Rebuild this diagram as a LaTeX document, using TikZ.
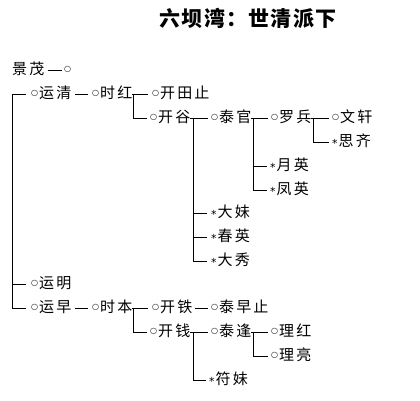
\documentclass[tikz,border=0pt]{standalone}
\usepackage{fontspec}
\newfontfamily\cjk{Noto Sans CJK SC}[LetterSpace=14]
\newfontfamily\cjktitle{Noto Sans CJK SC}[LetterSpace=6]
\newfontfamily\symfont{DejaVu Sans}
\newcommand\ringmark{\raisebox{3pt}{\symfont\fontsize{8}{8}\selectfont ○}\kern1pt}
\newcommand\starmark{\raisebox{-1.2pt}{\symfont\fontsize{11}{11}\selectfont *}\kern1pt}
\tikzset{
  person/.style={anchor=west, inner sep=0pt, font=\cjk\fontsize{15}{15}\selectfont, text height=12pt, text depth=3pt},
  conn/.style={line width=0.8pt, black},
}
\begin{document}
\begin{tikzpicture}[x=1pt,y=-1pt]
\useasboundingbox (0,0) rectangle (420,401);
\node[font=\cjktitle\bfseries\fontsize{21}{21}\selectfont, inner sep=0pt] (title) at (248,18) {六坝湾：世清派下};
% vertical line positions
\coordinate (V0) at (12,0);
\coordinate (V1) at (133,0);
\coordinate (V2) at (193,0);
\coordinate (V3) at (253,0);
\coordinate (V4) at (313,0);
% nodes
\node[person] (jm) at (12,70) {景茂};
\node[person] (r0) at (64,70) {\ringmark};
\node[person] (yq) at (31,94) {\ringmark 运清};
\node[person] (sh) at (92,94) {\ringmark 时红};
\node[person] (kt) at (152,94) {\ringmark 开田止};
\node[person] (kg) at (150,118) {\ringmark 开谷};
\node[person] (tg) at (211,118) {\ringmark 泰官};
\node[person] (lb) at (271,118) {\ringmark 罗兵};
\node[person] (wx) at (332,118) {\ringmark 文轩};
\node[person] (sq) at (332,142) {\starmark 思齐};
\node[person] (yy) at (270,166) {\starmark 月英};
\node[person] (fy) at (270,190) {\starmark 凤英};
\node[person] (dm) at (211,213) {\starmark 大妹};
\node[person] (cy) at (211,237) {\starmark 春英};
\node[person] (dx) at (211,261) {\starmark 大秀};
\node[person] (ym) at (31,284) {\ringmark 运明};
\node[person] (yz) at (31,308) {\ringmark 运早};
\node[person] (sb) at (92,308) {\ringmark 时本};
\node[person] (kte) at (152,308) {\ringmark 开铁};
\node[person] (tz) at (211,308) {\ringmark 泰早止};
\node[person] (kq) at (150,332) {\ringmark 开钱};
\node[person] (tf) at (211,332) {\ringmark 泰逢};
\node[person] (lh) at (271,332) {\ringmark 理红};
\node[person] (ll) at (271,356) {\ringmark 理亮};
\node[person] (fm) at (209,380) {\starmark 符妹};
% connectors
\draw[conn] ([xshift=3pt]jm.east) -- ([xshift=-2pt]r0.west);
\draw[conn] ([xshift=-5pt]yq.west) -- (yq.west -| V0) -- (yz.west -| V0) -- ([xshift=-5pt]yz.west);
\draw[conn] (ym.west -| V0) -- ([xshift=-5pt]ym.west);
\draw[conn] ([xshift=4pt]yq.east) -- ([xshift=-4pt]sh.west);
\draw[conn] (sh.east) -- (sh.east -| V1) -- (kg.west -| V1) -- ([xshift=-3pt]kg.west);
\draw[conn] (sh.east -| V1) -- ([xshift=-4pt]kt.west);
\draw[conn] (kg.east) -- (kg.east -| V2) -- (dx.west -| V2) -- ([xshift=-4pt]dx.west);
\draw[conn] (kg.east -| V2) -- ([xshift=-3pt]tg.west);
\draw[conn] (dm.west -| V2) -- ([xshift=-4pt]dm.west);
\draw[conn] (cy.west -| V2) -- ([xshift=-4pt]cy.west);
\draw[conn] (tg.east) -- (tg.east -| V3) -- (fy.west -| V3) -- ([xshift=-3pt]fy.west);
\draw[conn] (tg.east -| V3) -- ([xshift=-3pt]lb.west);
\draw[conn] (yy.west -| V3) -- ([xshift=-3pt]yy.west);
\draw[conn] (lb.east) -- (lb.east -| V4) -- (sq.west -| V4) -- ([xshift=-3pt]sq.west);
\draw[conn] (lb.east -| V4) -- ([xshift=-3pt]wx.west);
\draw[conn] ([xshift=4pt]yz.east) -- ([xshift=-4pt]sb.west);
\draw[conn] (sb.east) -- (sb.east -| V1) -- (kq.west -| V1) -- ([xshift=-3pt]kq.west);
\draw[conn] (sb.east -| V1) -- ([xshift=-4pt]kte.west);
\draw[conn] ([xshift=3pt]kte.east) -- ([xshift=-3pt]tz.west);
\draw[conn] (kq.east) -- (kq.east -| V2) -- (fm.west -| V2) -- ([xshift=-3pt]fm.west);
\draw[conn] (kq.east -| V2) -- ([xshift=-3pt]tf.west);
\draw[conn] (tf.east) -- (tf.east -| V3) -- (ll.west -| V3) -- ([xshift=-3pt]ll.west);
\draw[conn] (tf.east -| V3) -- ([xshift=-3pt]lh.west);
\end{tikzpicture}
\end{document}
